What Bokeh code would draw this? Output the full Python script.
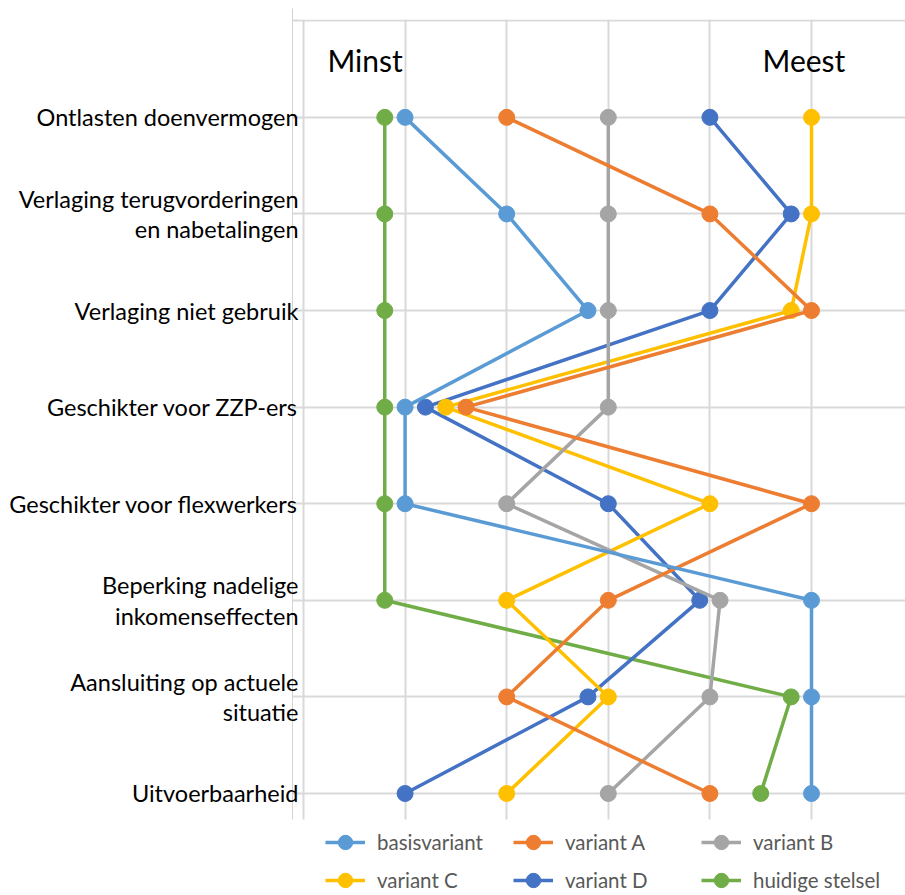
from bokeh.plotting import figure
from bokeh.models import FixedTicker, Legend, LegendItem, Label, Range1d, BoxAnnotation
from bokeh.embed import file_html
from bokeh.resources import INLINE

# ---- data -----------------------------------------------------------------
categories = [
    "Ontlasten doenvermogen",
    "Verlaging terugvorderingen\nen nabetalingen",
    "Verlaging niet gebruik",
    "Geschikter voor ZZP-ers",
    "Geschikter voor flexwerkers",
    "Beperking nadelige\ninkomenseffecten",
    "Aansluiting op actuele\nsituatie",
    "Uitvoerbaarheid",
]
positions = [8, 7, 6, 5, 4, 3, 2, 1]

basisvariant = [1.0, 2.0, 2.8, 1.0, 1.0, 5.0, 5.0, 5.0]
variant_a = [2.0, 4.0, 5.0, 1.6, 5.0, 3.0, 2.0, 4.0]
variant_b = [3.0, 3.0, 3.0, 3.0, 2.0, 4.1, 4.0, 3.0]
variant_c = [5.0, 5.0, 4.8, 1.4, 4.0, 2.0, 3.0, 2.0]
variant_d = [4.0, 4.8, 4.0, 1.2, 3.0, 3.9, 2.8, 1.0]
huidige_stelsel = [0.8, 0.8, 0.8, 0.8, 0.8, 0.8, 4.8, 4.5]

series_names = ["basisvariant", "variant A", "variant B",
                "variant C", "variant D", "huidige stelsel"]
series_values = [basisvariant, variant_a, variant_b,
                 variant_c, variant_d, huidige_stelsel]
colors = ["#5B9BD5", "#ED7D31", "#A5A5A5", "#FFC000", "#4472C4", "#70AD47"]

x_ticks = [0, 1, 2, 3, 4, 5]
grid_rows = [1, 2, 3, 4, 5, 6, 7, 8, 9]

FONT = "Lato"

# plotting area limits (grid spans y 0.731 .. 9.013)
Y_LO, Y_HI = 0.731, 9.013

# ---- figure ---------------------------------------------------------------
p = figure(width=905, height=895, output_backend="svg", toolbar_location=None,
           x_range=Range1d(-0.108, 5.925), y_range=Range1d(-0.056, 9.127),
           min_border_left=292, min_border_right=0,
           min_border_top=8, min_border_bottom=0)
p.outline_line_color = None
p.background_fill_color = "white"
p.border_fill_color = "white"

p.xaxis.visible = False
p.xgrid.ticker = FixedTicker(ticks=x_ticks)
p.ygrid.ticker = FixedTicker(ticks=grid_rows)
for g in (p.xgrid, p.ygrid):
    g.grid_line_color = "#d9d9d9"
    g.grid_line_width = 2

ax = p.yaxis[0]
ax.ticker = FixedTicker(ticks=positions)
ax.bounds = (Y_LO, 9.127)
ax.major_label_overrides = {pos: lab for pos, lab in zip(positions, categories)}
ax.axis_line_color = "#d4d4d4"
ax.axis_line_width = 1
ax.major_tick_line_color = None
ax.minor_tick_line_color = None
ax.major_tick_out = 0
ax.major_tick_in = 0
ax.major_label_standoff = -6
ax.major_label_text_font = FONT
ax.major_label_text_font_size = "23.5px"
ax.major_label_text_color = "#000000"
ax.major_label_text_line_height = 1.1

# white masks so the grid stops at the plot area edges
p.add_layout(BoxAnnotation(top=Y_LO, left=-0.05, fill_color="white", fill_alpha=1,
                           line_color=None))
p.add_layout(BoxAnnotation(bottom=Y_HI, left=-0.05, fill_color="white", fill_alpha=1,
                           line_color=None))

# ---- series (drawn in reverse so basisvariant is on top) --------------------
items = {}
for name, vals, col in reversed(list(zip(series_names, series_values, colors))):
    lr = p.line(vals, positions, line_color=col, line_width=3.5)
    sr = p.scatter(vals, positions, marker="circle", size=16,
                   fill_color=col, line_color=col)
    items[name] = LegendItem(label=name, renderers=[lr, sr])

legend = Legend(items=[items[n] for n in series_names],
                location=(33, -3), orientation="horizontal", ncols=3,
                glyph_width=40, glyph_height=36, label_height=36,
                label_width=134, label_standoff=12, spacing=2,
                padding=0, margin=0, border_line_color=None,
                background_fill_alpha=0,
                label_text_font=FONT, label_text_font_size="20.5px",
                label_text_color="#595959")
p.add_layout(legend)

# ---- Minst / Meest -------------------------------------------------------------
for txt, xv in (("Minst", 0.236), ("Meest", 4.518)):
    p.add_layout(Label(x=xv, y=8.59, text=txt, text_font=FONT,
                       text_font_size="30px", text_color="#000000",
                       text_baseline="middle", text_align="left"))

open("out.html", "w").write(file_html(p, INLINE))
